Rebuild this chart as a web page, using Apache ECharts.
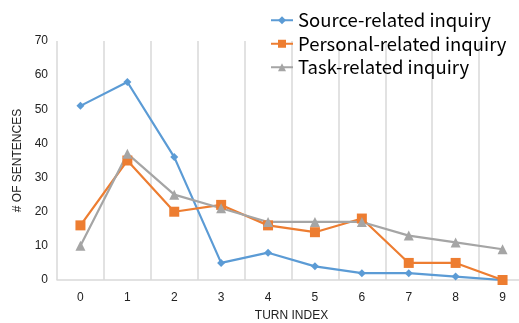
<!DOCTYPE html>
<html><head><meta charset="utf-8">
<script src="https://cdn.jsdelivr.net/npm/echarts@6/dist/echarts.min.js"></script>
<style>html,body{margin:0;padding:0;background:#fff;overflow:hidden;width:519px;height:323px}#c{width:526px;height:323px}</style>
</head><body><div id="c"></div>
<script>
const categories = ['0','1','2','3','4','5','6','7','8','9'];
const sourceRelated = [51, 58, 36, 5, 8, 4, 2, 2, 1, 0];
const personalRelated = [16, 35, 20, 22, 16, 14, 18, 5, 5, 0];
const taskRelated = [10, 37, 25, 21, 17, 17, 17, 13, 11, 9];
const seriesNames = ['Source-related inquiry', 'Personal-related inquiry', 'Task-related inquiry'];

const chart = echarts.init(document.getElementById('c'), null, {renderer: 'canvas'});
const font = '"Liberation Sans", Arial, sans-serif';
function mk(name, data, color, symbol, size) {
  return {name, type: 'line', data, color, symbol, symbolSize: size,
    lineStyle: {width: 2.2, color}, itemStyle: {color}, animation: false};
}
chart.setOption({
  animation: false,
  grid: {left: 57, right: 0, top: 41, bottom: 43, containLabel: false, outerBoundsMode: 'none'},
  legend: {
    orient: 'vertical', left: 265, top: 6, itemGap: 5, itemWidth: 22, itemHeight: 10,
    textStyle: {fontSize: 18.5, color: '#000', fontFamily: '"Noto Sans CJK SC", "Noto Sans", sans-serif'},
    data: seriesNames
  },
  xAxis: {
    type: 'category', data: categories, boundaryGap: true,
    name: 'TURN INDEX', nameLocation: 'middle', nameGap: 30,
    nameTextStyle: {fontSize: 12, color: '#222', fontFamily: font},
    axisLine: {lineStyle: {color: '#d9d9d9', width: 1.5}},
    axisTick: {show: false},
    axisLabel: {fontSize: 12, color: '#222', margin: 12, fontFamily: font},
    splitLine: {show: true, lineStyle: {color: '#d9d9d9', width: 1.5}}
  },
  yAxis: {
    type: 'value', min: 0, max: 70, interval: 10,
    name: '# OF SENTENCES', nameLocation: 'middle', nameGap: 33,
    nameTextStyle: {fontSize: 12, color: '#222', fontFamily: font},
    axisLine: {show: false}, axisTick: {show: false},
    axisLabel: {fontSize: 12, color: '#222', margin: 9, fontFamily: font},
    splitLine: {show: false}
  },
  series: [
    mk(seriesNames[0], sourceRelated, '#5b9bd5', 'diamond', 8),
    mk(seriesNames[1], personalRelated, '#ed7d31', 'rect', 10),
    mk(seriesNames[2], taskRelated, '#a5a5a5', 'triangle', 10)
  ]
});
</script></body></html>
